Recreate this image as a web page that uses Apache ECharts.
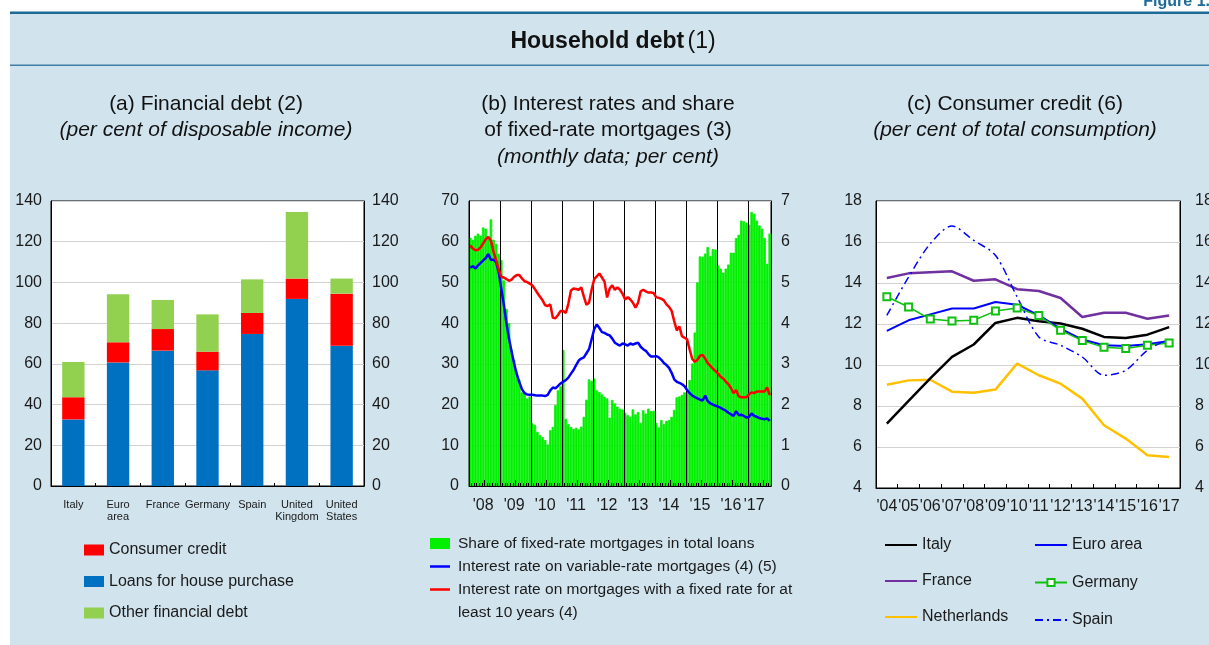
<!DOCTYPE html>
<html>
<head>
<meta charset="utf-8">
<script src="https://cdn.jsdelivr.net/npm/echarts@6/dist/echarts.min.js"></script>
<style>
html,body{margin:0;padding:0;background:#fff;}
#chart{width:1209px;height:645px;}
</style>
</head>
<body>
<div id="chart"></div>
<script>
// ---------- Panel (a): financial debt, per cent of disposable income ----------
const aCategories = ['Italy', 'Euro area', 'France', 'Germany', 'Spain', 'United Kingdom', 'United States'];
const aLoans    = [32.7, 60.7, 66.5, 56.8, 74.7, 91.9, 68.9];
const aConsumer = [10.9,  9.9, 10.6,  9.2, 10.3, 10.0, 25.6];
const aOther    = [17.3, 23.6, 14.3, 18.3, 16.5, 32.7,  7.4];

// ---------- Panel (b): monthly data, Jan 2008 - Sep 2017 ----------
const bStartYear = 2008;
const bShareFixed = [
  61.0, 60.5, 61.5, 62.0, 61.5, 63.5, 63.2, 61.0, 65.5, 60.5, 59.5, 57.0,   // 2008
  55.5, 50.5, 43.5, 40.0, 33.5, 31.0, 28.0, 26.0, 23.0, 23.0, 21.5, 22.0,   // 2009
  15.4, 15.0, 13.3, 12.5, 12.0, 11.3, 10.2, 13.7, 14.5, 19.9, 23.5, 24.5,   // 2010
  33.4, 16.5, 15.2, 14.5, 14.0, 14.3, 13.9, 14.6, 17.0, 21.2, 26.2, 25.8,   // 2011
  26.4, 23.5, 23.1, 22.5, 21.9, 21.5, 16.8, 21.1, 20.3, 19.5, 19.0, 18.8,   // 2012
  18.0, 17.4, 17.0, 18.8, 17.6, 18.2, 15.5, 18.6, 17.8, 19.0, 18.4, 18.5,   // 2013
  15.5, 14.4, 16.2, 15.2, 16.0, 16.2, 17.0, 18.7, 21.8, 22.0, 22.4, 23.0,   // 2014
  23.3, 26.0, 30.1, 37.7, 50.0, 56.4, 56.3, 57.1, 58.7, 56.5, 58.2, 58.1,   // 2015
  54.2, 53.4, 52.4, 53.4, 54.4, 57.3, 57.3, 60.9, 61.7, 65.2, 65.0, 64.7,   // 2016
  64.2, 67.3, 66.9, 65.2, 64.0, 63.2, 60.9, 54.6, 62.0                      // 2017
];
const bVariableRate = [
  5.36, 5.40, 5.34, 5.42, 5.48, 5.54, 5.60, 5.70, 5.55, 5.56, 5.50, 5.25,   // 2008
  4.85, 4.45, 4.00, 3.62, 3.30, 3.00, 2.75, 2.55, 2.38, 2.28, 2.25, 2.24,   // 2009
  2.24, 2.23, 2.22, 2.22, 2.22, 2.21, 2.24, 2.35, 2.42, 2.40, 2.46, 2.52,   // 2010
  2.56, 2.60, 2.66, 2.76, 2.85, 2.97, 3.08, 3.13, 3.16, 3.26, 3.36, 3.60,   // 2011
  3.85, 3.97, 3.88, 3.78, 3.76, 3.72, 3.70, 3.62, 3.52, 3.48, 3.45, 3.50,   // 2012
  3.48, 3.45, 3.50, 3.47, 3.50, 3.52, 3.42, 3.36, 3.32, 3.24, 3.18, 3.18,   // 2013
  3.19, 3.16, 3.10, 3.02, 2.97, 2.90, 2.78, 2.62, 2.56, 2.53, 2.50, 2.45,   // 2014
  2.36, 2.28, 2.22, 2.18, 2.15, 2.12, 2.10, 2.22, 2.08, 2.03, 2.00, 1.97,   // 2015
  1.95, 1.92, 1.88, 1.85, 1.80, 1.76, 1.72, 1.84, 1.74, 1.75, 1.72, 1.68,   // 2016
  1.70, 1.78, 1.72, 1.70, 1.67, 1.65, 1.64, 1.66, 1.60                      // 2017
];
const bFixedRate = [
  5.91, 5.83, 5.79, 5.80, 5.86, 5.96, 6.06, 6.12, 6.02, 5.75, 5.55, 5.32,   // 2008
  5.14, 5.12, 5.08, 5.04, 5.07, 5.14, 5.18, 5.18, 5.10, 5.03, 5.01, 4.97,   // 2009
  4.93, 4.84, 4.74, 4.65, 4.56, 4.44, 4.42, 4.46, 4.13, 4.12, 4.20, 4.30,   // 2010
  4.30, 4.25, 4.48, 4.80, 4.85, 4.84, 4.82, 4.88, 4.65, 4.45, 4.50, 4.82,   // 2011
  5.08, 5.15, 5.22, 5.12, 5.02, 4.63, 4.85, 4.93, 4.82, 4.88, 4.82, 4.72,   // 2012
  4.58, 4.64, 4.58, 4.50, 4.38, 4.50, 4.78, 4.82, 4.78, 4.75, 4.75, 4.74,   // 2013
  4.64, 4.62, 4.60, 4.56, 4.46, 4.40, 4.30, 4.05, 3.82, 3.92, 3.68, 3.64,   // 2014
  3.60, 3.35, 3.12, 3.05, 3.10, 3.20, 3.22, 3.13, 3.02, 2.95, 2.88, 2.82,   // 2015
  2.76, 2.68, 2.64, 2.56, 2.50, 2.40, 2.28, 2.36, 2.20, 2.18, 2.18, 2.18,   // 2016
  2.25, 2.30, 2.28, 2.32, 2.32, 2.32, 2.32, 2.42, 2.23                      // 2017
];
const bMonths = [];
for (let i = 0; i < bShareFixed.length; i++) {
  const y = bStartYear + Math.floor(i / 12), m = (i % 12) + 1;
  bMonths.push(y + '-' + (m < 10 ? '0' + m : m));
}

// ---------- Panel (c): consumer credit, per cent of total consumption ----------
const cYears = ["'04", "'05", "'06", "'07", "'08", "'09", "'10", "'11", "'12", "'13", "'14", "'15", "'16", "'17"];
const cItaly       = [7.14, 8.25, 9.35, 10.40, 11.00, 12.05, 12.30, 12.13, 12.02, 11.77, 11.37, 11.32, 11.48, 11.85];
const cEuroArea    = [11.66, 12.18, 12.47, 12.76, 12.76, 13.07, 12.94, 12.42, 11.77, 11.24, 10.96, 10.93, 11.01, 11.17];
const cFrance      = [14.24, 14.47, 14.52, 14.57, 14.11, 14.18, 13.70, 13.61, 13.27, 12.34, 12.55, 12.55, 12.26, 12.42];
const cGermany     = [13.33, 12.83, 12.24, 12.15, 12.18, 12.63, 12.78, 12.41, 11.69, 11.19, 10.86, 10.81, 10.96, 11.07];
const cNetherlands = [9.04, 9.25, 9.28, 8.70, 8.65, 8.80, 10.07, 9.50, 9.09, 8.36, 7.06, 6.41, 5.60, 5.51];
const cSpain       = [12.42, 14.29, 15.92, 16.78, 16.08, 15.35, 13.32, 11.37, 10.96, 10.39, 9.50, 9.74, 10.72, 11.28];

// ---------- styling ----------
const FONT = "'Liberation Sans', Arial, Helvetica, sans-serif";
const TXT = '#1a1a1a';
const GRIDLINE = '#d2d2d2';
const PANEL_BG = '#d1e3ed';
const DARKBLUE = '#1e6b97';
const BAR_GREEN = '#00f000';

const chart = echarts.init(document.getElementById('chart'), null, {renderer: 'canvas'});

function valAxis(extra) {
  return Object.assign({
    type: 'value',
    axisLine: {show: true, lineStyle: {color: '#000', width: 1}},
    axisTick: {show: false},
    axisLabel: {fontSize: 16, color: TXT, fontFamily: FONT},
    splitLine: {show: false}
  }, extra);
}
function textEl(x, y, text, font) {
  return {
    type: 'text', x: x, y: y,
    style: {text: text, font: font, fill: '#111', align: 'center', verticalAlign: 'middle',
            textAlign: 'center', textVerticalAlign: 'middle'}
  };
}
function leftText(x, y, text, size) {
  return {type: 'text', x: x, y: y,
    style: {text: text, font: size + 'px ' + FONT, fill: TXT, align: 'left', verticalAlign: 'middle',
            textAlign: 'left', textVerticalAlign: 'middle'}};
}

const option = {
  animation: false,
  textStyle: {fontFamily: FONT},
  grid: [
    {left: 51, top: 201, width: 313, height: 285, show: true, backgroundColor: '#fff', borderColor: '#000', borderWidth: 1, outerBoundsMode: 'none'},
    {left: 469, top: 201, width: 302, height: 285, show: true, backgroundColor: '#fff', borderColor: '#000', borderWidth: 1, outerBoundsMode: 'none'},
    {left: 876, top: 201, width: 304, height: 287, show: true, backgroundColor: '#fff', borderColor: '#000', borderWidth: 1, outerBoundsMode: 'none'}
  ],
  xAxis: [
    {
      gridIndex: 0, type: 'category', data: aCategories, position: 'bottom',
      axisLine: {lineStyle: {color: '#000'}},
      axisTick: {show: true, inside: true, length: 3, lineStyle: {color: '#000'}},
      axisLabel: {interval: 0, fontSize: 11, lineHeight: 12, margin: 13, color: TXT,
                  formatter: function (v) { return v.replace(' ', '\n'); }},
      splitLine: {show: false}
    },
    {
      gridIndex: 1, type: 'category', data: bMonths, position: 'bottom', z: 5,
      axisLine: {lineStyle: {color: '#000'}},
      axisTick: {show: true, inside: true, length: 3, interval: 0, lineStyle: {color: '#000'}},
      axisLabel: {fontSize: 16, margin: 12, color: TXT,
                  interval: function (i) { return i % 12 === 5 || i === 110; },
                  formatter: function (v) { return "'" + v.slice(2, 4); }},
      splitLine: {show: true, interval: function (i) { return i > 0 && i % 12 === 0; },
                  lineStyle: {color: '#000', width: 1}}
    },
    {
      gridIndex: 1, type: 'category', data: bMonths, position: 'bottom', z: 5,
      axisLine: {show: false},
      axisTick: {show: true, inside: true, length: 6, interval: function (i) { return i % 12 === 6; },
                 lineStyle: {color: '#000'}},
      axisLabel: {show: false},
      splitLine: {show: false}
    },
    {
      gridIndex: 2, type: 'category', data: cYears, position: 'bottom',
      axisLine: {lineStyle: {color: '#000'}},
      axisTick: {show: true, inside: true, length: 4, lineStyle: {color: '#000'}},
      axisLabel: {interval: 0, fontSize: 16, margin: 11, color: TXT},
      splitLine: {show: false}
    }
  ],
  yAxis: [
    valAxis({gridIndex: 0, position: 'left', min: 0, max: 140, interval: 20,
             axisLabel: {fontSize: 16, color: TXT, margin: 9},
             splitLine: {show: true, lineStyle: {color: GRIDLINE, width: 1}}}),
    valAxis({gridIndex: 0, position: 'right', min: 0, max: 140, interval: 20,
             axisLabel: {fontSize: 16, color: TXT, margin: 8}}),
    valAxis({gridIndex: 1, position: 'left', min: 0, max: 70, interval: 10, z: 5,
             axisLabel: {fontSize: 16, color: TXT, margin: 10}}),
    valAxis({gridIndex: 1, position: 'right', min: 0, max: 7, interval: 1, z: 5,
             axisLabel: {fontSize: 16, color: TXT, margin: 10}}),
    valAxis({gridIndex: 1, position: 'left', min: 0, max: 70, interval: 10,
             axisLine: {show: false}, axisLabel: {show: false},
             splitLine: {show: true, lineStyle: {color: GRIDLINE, width: 1}}}),
    valAxis({gridIndex: 2, position: 'left', min: 4, max: 18, interval: 2,
             axisLabel: {fontSize: 16, color: TXT, margin: 14},
             splitLine: {show: true, lineStyle: {color: GRIDLINE, width: 1}}}),
    valAxis({gridIndex: 2, position: 'right', min: 4, max: 18, interval: 2,
             axisLabel: {fontSize: 16, color: TXT, margin: 15}})
  ],
  legend: [
    {
      data: ['Consumer credit', 'Loans for house purchase', 'Other financial debt'],
      orient: 'vertical', left: 84, top: 541, padding: 0, itemWidth: 20, itemHeight: 11, itemGap: 13.5,
      icon: 'rect', selectedMode: false,
      textStyle: {fontSize: 16, lineHeight: 18, color: TXT}
    },
    {
      data: [{name: 'Italy', itemStyle: {opacity: 0}}, {name: 'France', itemStyle: {opacity: 0}},
             {name: 'Netherlands', itemStyle: {opacity: 0}}],
      orient: 'vertical', left: 884, top: 536, padding: 0, itemWidth: 32, itemHeight: 9, itemGap: 18,
      selectedMode: false, textStyle: {fontSize: 16, lineHeight: 18, color: TXT}
    },
    {
      data: [{name: 'Euro area', itemStyle: {opacity: 0}}, {name: 'Germany'},
             {name: 'Spain', itemStyle: {opacity: 0}}],
      orient: 'vertical', left: 1034, top: 536, padding: 0, itemWidth: 32, itemHeight: 9, itemGap: 19.5,
      selectedMode: false, textStyle: {fontSize: 16, lineHeight: 18, color: TXT}
    }
  ],
  series: [
    // panel a
    {name: 'Loans for house purchase', type: 'bar', stack: 'a', xAxisIndex: 0, yAxisIndex: 0,
     data: aLoans, barWidth: '50%', itemStyle: {color: '#0070c0'}},
    {name: 'Consumer credit', type: 'bar', stack: 'a', xAxisIndex: 0, yAxisIndex: 0,
     data: aConsumer, barWidth: '50%', itemStyle: {color: '#ff0000'}},
    {name: 'Other financial debt', type: 'bar', stack: 'a', xAxisIndex: 0, yAxisIndex: 0,
     data: aOther, barWidth: '50%', itemStyle: {color: '#92d050'}},
    // panel b
    {name: 'Share of fixed-rate mortgages in total loans', type: 'bar', xAxisIndex: 1, yAxisIndex: 2,
     data: bShareFixed, barCategoryGap: '0%',
     itemStyle: {color: BAR_GREEN, borderColor: BAR_GREEN, borderWidth: 0.8}},
    {name: 'Interest rate on variable-rate mortgages (4) (5)', type: 'line', xAxisIndex: 1, yAxisIndex: 3,
     data: bVariableRate, symbol: 'none', z: 6, lineStyle: {color: '#0000ff', width: 2.5}, itemStyle: {color: '#0000ff'}},
    {name: 'Interest rate on mortgages with a fixed rate for at least 10 years (4)', type: 'line',
     xAxisIndex: 1, yAxisIndex: 3, data: bFixedRate, symbol: 'none', z: 6,
     lineStyle: {color: '#ff0000', width: 2.5}, itemStyle: {color: '#ff0000'}},
    // panel c
    {name: 'Netherlands', type: 'line', xAxisIndex: 3, yAxisIndex: 5, data: cNetherlands, symbol: 'none',
     lineStyle: {color: '#ffc000', width: 2.5}, itemStyle: {color: '#ffc000'}},
    {name: 'Italy', type: 'line', xAxisIndex: 3, yAxisIndex: 5, data: cItaly, symbol: 'none',
     lineStyle: {color: '#000000', width: 2.5}, itemStyle: {color: '#000000'}},
    {name: 'France', type: 'line', xAxisIndex: 3, yAxisIndex: 5, data: cFrance, symbol: 'none',
     lineStyle: {color: '#7030a0', width: 2.5}, itemStyle: {color: '#7030a0'}},
    {name: 'Euro area', type: 'line', xAxisIndex: 3, yAxisIndex: 5, data: cEuroArea, symbol: 'none',
     lineStyle: {color: '#0000ff', width: 2}, itemStyle: {color: '#0000ff'}},
    {name: 'Germany', type: 'line', xAxisIndex: 3, yAxisIndex: 5, data: cGermany, symbol: 'emptyRect',
     symbolSize: 7, lineStyle: {color: '#10c010', width: 1.5},
     itemStyle: {color: '#10c010', borderColor: '#10c010', borderWidth: 1.5}},
    {name: 'Spain', type: 'line', xAxisIndex: 3, yAxisIndex: 5, data: cSpain, symbol: 'none', smooth: 0.3,
     lineStyle: {color: '#0000ff', width: 1.5, type: [8, 4, 2, 4]}, itemStyle: {color: '#0000ff'}}
  ],
  graphic: [
    {type: 'rect', z: -100, shape: {x: 10, y: 14, width: 1199, height: 631}, style: {fill: PANEL_BG}},
    {type: 'rect', z: -90, shape: {x: 10, y: 11.5, width: 1199, height: 2.5}, style: {fill: DARKBLUE}},
    {type: 'rect', z: -90, shape: {x: 10, y: 64.5, width: 1199, height: 1.5}, style: {fill: '#3f7fa8'}},
    {type: 'text', x: 1210, y: 2, style: {text: 'Figure 1.', font: 'bold 16px ' + FONT, fill: DARKBLUE,
      align: 'right', verticalAlign: 'middle', textAlign: 'right', textVerticalAlign: 'middle'}},
    {type: 'text', x: 613, y: 42, style: {
      text: '{b|Household debt} {n|(1)}', align: 'center', verticalAlign: 'middle',
      textAlign: 'center', textVerticalAlign: 'middle',
      rich: {b: {fontFamily: FONT, fontSize: 23, fontWeight: 'bold', fill: '#111', color: '#111'},
             n: {fontFamily: FONT, fontSize: 23, fill: '#111', color: '#111'}}}},
    textEl(206, 104, '(a) Financial debt (2)', '21px ' + FONT),
    textEl(206, 130, '(per cent of disposable income)', 'italic 21px ' + FONT),
    textEl(608, 104, '(b) Interest rates and share', '21px ' + FONT),
    textEl(608, 130, 'of fixed-rate mortgages (3)', '21px ' + FONT),
    textEl(608, 157, '(monthly data; per cent)', 'italic 21px ' + FONT),
    textEl(1015, 104, '(c) Consumer credit (6)', '21px ' + FONT),
    textEl(1015, 130, '(per cent of total consumption)', 'italic 21px ' + FONT),
    // panel b legend
    {type: 'rect', shape: {x: 430, y: 538, width: 20, height: 11}, style: {fill: BAR_GREEN}},
    leftText(458, 543.5, 'Share of fixed-rate mortgages in total loans', 15.5),
    {type: 'line', shape: {x1: 430, y1: 566.5, x2: 450, y2: 566.5}, style: {stroke: '#0000ff', lineWidth: 2.5}},
    leftText(458, 566.5, 'Interest rate on variable-rate mortgages (4) (5)', 15.5),
    {type: 'line', shape: {x1: 430, y1: 589.5, x2: 450, y2: 589.5}, style: {stroke: '#ff0000', lineWidth: 2.5}},
    leftText(458, 589.5, 'Interest rate on mortgages with a fixed rate for at', 15.5),
    leftText(458, 612.5, 'least 10 years (4)', 15.5)
  ]
};
chart.setOption(option);
</script>
</body>
</html>
